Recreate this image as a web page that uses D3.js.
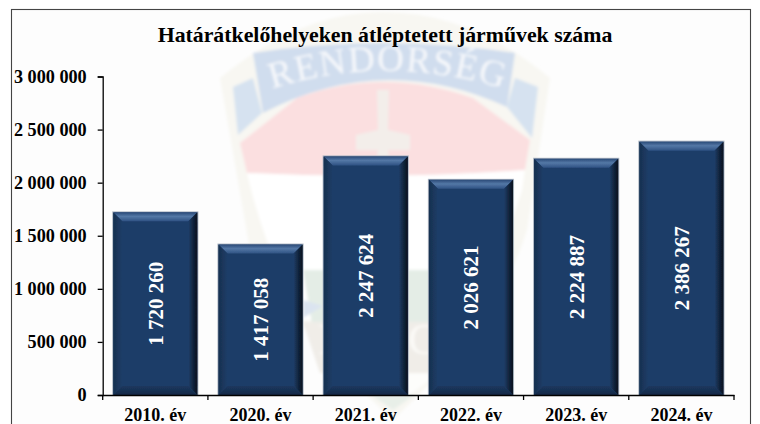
<!DOCTYPE html>
<html><head><meta charset="utf-8">
<script src="https://cdn.jsdelivr.net/npm/d3@7"></script>
<style>html,body{margin:0;padding:0;background:#fff;overflow:hidden}svg{display:block}text{font-family:"Liberation Serif",serif;font-weight:bold}</style>
</head><body><svg id="c" width="760" height="424"></svg>
<script>
const titleText = "Határátkelőhelyeken átléptetett járművek száma";
const categories = ["2010. év","2020. év","2021. év","2022. év","2023. év","2024. év"];
const values = [1720260,1417058,2247624,2026621,2224887,2386267];
const yTicks = [0,500000,1000000,1500000,2000000,2500000,3000000];
const yMax = 3000000;

const svg = d3.select("#c");
const defs = svg.append("defs");
const blur = defs.append("filter").attr("id","soft").attr("x","-5%").attr("y","-5%").attr("width","110%").attr("height","110%");
blur.append("feGaussianBlur").attr("stdDeviation",1.4);
const bl2 = defs.append("filter").attr("id","soft2").attr("x","-20%").attr("y","-20%").attr("width","140%").attr("height","140%");
bl2.append("feGaussianBlur").attr("stdDeviation",0.7);
function lg(id,dir,stops){
  const g=defs.append("linearGradient").attr("id",id);
  const d={top:[0,0,0,1],right:[1,0,0,0],left:[0,0,1,0],bottom:[0,1,0,0]}[dir];
  g.attr("x1",d[0]).attr("y1",d[1]).attr("x2",d[2]).attr("y2",d[3]);
  stops.forEach(s=>g.append("stop").attr("offset",s[0]).attr("stop-color",s[1]));
}
lg("gt","top",[[0,"#2a4a78"],[0.45,"#5478a6"],[1,"#2f5283"]]);
lg("gr","right",[[0,"#07101e"],[0.5,"#12263f"],[1,"#1f3d68"]]);
lg("gl","left",[[0,"#16304f"],[1,"#1f3d68"]]);
lg("gb","bottom",[[0,"#142a48"],[1,"#1c375e"]]);

// frame
svg.append("rect").attr("x",11.5).attr("y",9.5).attr("width",739).attr("height",430)
   .attr("fill","#fdfdfd").attr("stroke","#444").attr("stroke-width",1.1);

// faded emblem behind the chart
const wm = svg.append("g").attr("filter","url(#soft)");
wm.append("path").attr("d","M220,78 Q300,12 383,12 Q470,12 550,78 L527,230 Q500,320 393,420 Q285,320 250,250 Z").attr("fill","#f8f7f2");
wm.append("path").attr("d","M240,143 L297,98 Q383,66 473,98 L530,140 L525,170 Q383,180 247,173 Z").attr("fill","#fbdfe0");
wm.append("path").attr("d","M233,87 L253,78 L262,113 L238,135 Z M538,87 L515,78 L507,107 L532,138 Z").attr("fill","#d6e2f0");
wm.append("path").attr("d","M253,53 Q383,33 515,53 L507,107 Q383,50 263,113 Z").attr("fill","#d0ddee");
wm.append("path").attr("d","M377,90 L389,90 L388,130 L410,135 L410,150 L388,150 L392,178 L374,178 L378,150 L356,150 L356,135 L378,130 Z").attr("fill","#f3eeea");
wm.append("path").attr("d","M247,173 Q383,180 525,170 L522,190 Q490,290 470,320 L300,320 Q262,240 247,173 Z").attr("fill","#ffffff");
wm.append("path").attr("d","M303,270 L460,270 L440,373 L320,373 Z").attr("fill","#e4ede6");
wm.append("path").attr("d","M303,300 L323,306 L303,318 Z").attr("fill","#dbe4f0");
wm.append("path").attr("d","M303,322 L455,322 L440,373 L320,373 Z").attr("fill","#f0ede8");
wm.append("path").attr("d","M345,373 L440,373 L393,407 Z").attr("fill","#fdfdfb");
wm.append("path").attr("d","M372,395 L414,395 L393,410 Z").attr("fill","#e8efe8");
defs.append("path").attr("id","arc").attr("d","M268,90 Q385,52 508,90");
wm.append("text").attr("font-size",37).attr("fill","#f6f8fb").attr("letter-spacing",1.5).style("font-weight","normal")
  .append("textPath").attr("href","#arc").attr("startOffset","50%").attr("text-anchor","middle").text("RENDORSÉG");
wm.append("text").attr("x",318).attr("y",354).attr("font-size",44).attr("fill","#fbfaf7").style("font-weight","normal").text("I");
wm.append("text").attr("x",408).attr("y",354).attr("font-size",44).attr("fill","#fbfaf7").style("font-weight","normal").text("C");

// scales
const x = d3.scaleBand().domain(categories).range([102.7,734]).paddingInner(0.2).paddingOuter(0.1);
const y = d3.scaleLinear().domain([0,yMax]).range([395,76.5]);
const fmt = d3.formatLocale({decimal:",",thousands:" ",grouping:[3],currency:["",""]}).format(",d");

// bars
const bars = svg.append("g").selectAll("g").data(values).join("g")
  .attr("transform",(d,i)=>`translate(${x(categories[i])},${y(d)})`);
const bw = x.bandwidth(), bv = 9;
const hOf = d => y(0)-y(d);
bars.append("rect").attr("x",-0.5).attr("y",-0.5).attr("width",bw+1).attr("height",d=>hOf(d)+0.5).attr("fill","none").attr("stroke","#aeb6c2").attr("stroke-width",1);
const inner = bars.append("g").attr("filter","url(#soft2)");
inner.append("rect").attr("width",bw).attr("height",hOf).attr("fill","#1f3d68");
inner.append("path").attr("d",d=>`M0,0 H${bw} L${bw-bv},${bv} H${bv} Z`).attr("fill","url(#gt)");
inner.append("path").attr("d",d=>`M${bw},0 V${hOf(d)} L${bw-bv},${hOf(d)-bv} V${bv} Z`).attr("fill","url(#gr)");
inner.append("path").attr("d",d=>`M0,0 V${hOf(d)} L${bv},${hOf(d)-bv} V${bv} Z`).attr("fill","url(#gl)");
inner.append("path").attr("d",d=>`M0,${hOf(d)} H${bw} L${bw-bv},${hOf(d)-bv} H${bv} Z`).attr("fill","url(#gb)");
bars.append("text").attr("transform",d=>`translate(${bw/2},${hOf(d)/2}) rotate(-90)`)
  .attr("text-anchor","middle").attr("dy","0.35em").attr("font-size",21).attr("fill","#fff").text(d=>fmt(d));

// y axis
const ay = svg.append("g").attr("transform","translate(102.7,0)")
  .call(d3.axisLeft(y).tickValues(yTicks).tickSize(5).tickPadding(11).tickFormat(fmt));
ay.selectAll("text").attr("font-size",18.2).attr("fill","#000").style("font-family",'"Liberation Serif",serif');
ay.selectAll("line,path").attr("stroke","#000").attr("stroke-width",1.3);

// x axis
const ax = svg.append("g").attr("transform","translate(0,395)")
  .call(d3.axisBottom(x).tickSize(0).tickPadding(13));
ax.selectAll("text").attr("font-size",18).attr("fill","#000").style("font-family",'"Liberation Serif",serif');
ax.select("path").attr("stroke","#000").attr("stroke-width",1.3);
const step = x.step();
const bounds = categories.map(c=>x(c)-(step-bw)/2).concat([x(categories[5])+bw+(step-bw)/2]);
ax.selectAll("line.b").data(bounds).join("line").attr("class","b").attr("x1",d=>d).attr("x2",d=>d).attr("y1",0).attr("y2",5).attr("stroke","#000").attr("stroke-width",1.3);

// title
svg.append("text").attr("x",385).attr("y",42).attr("text-anchor","middle").attr("font-size",21.8).attr("fill","#000").text(titleText);
</script></body></html>
